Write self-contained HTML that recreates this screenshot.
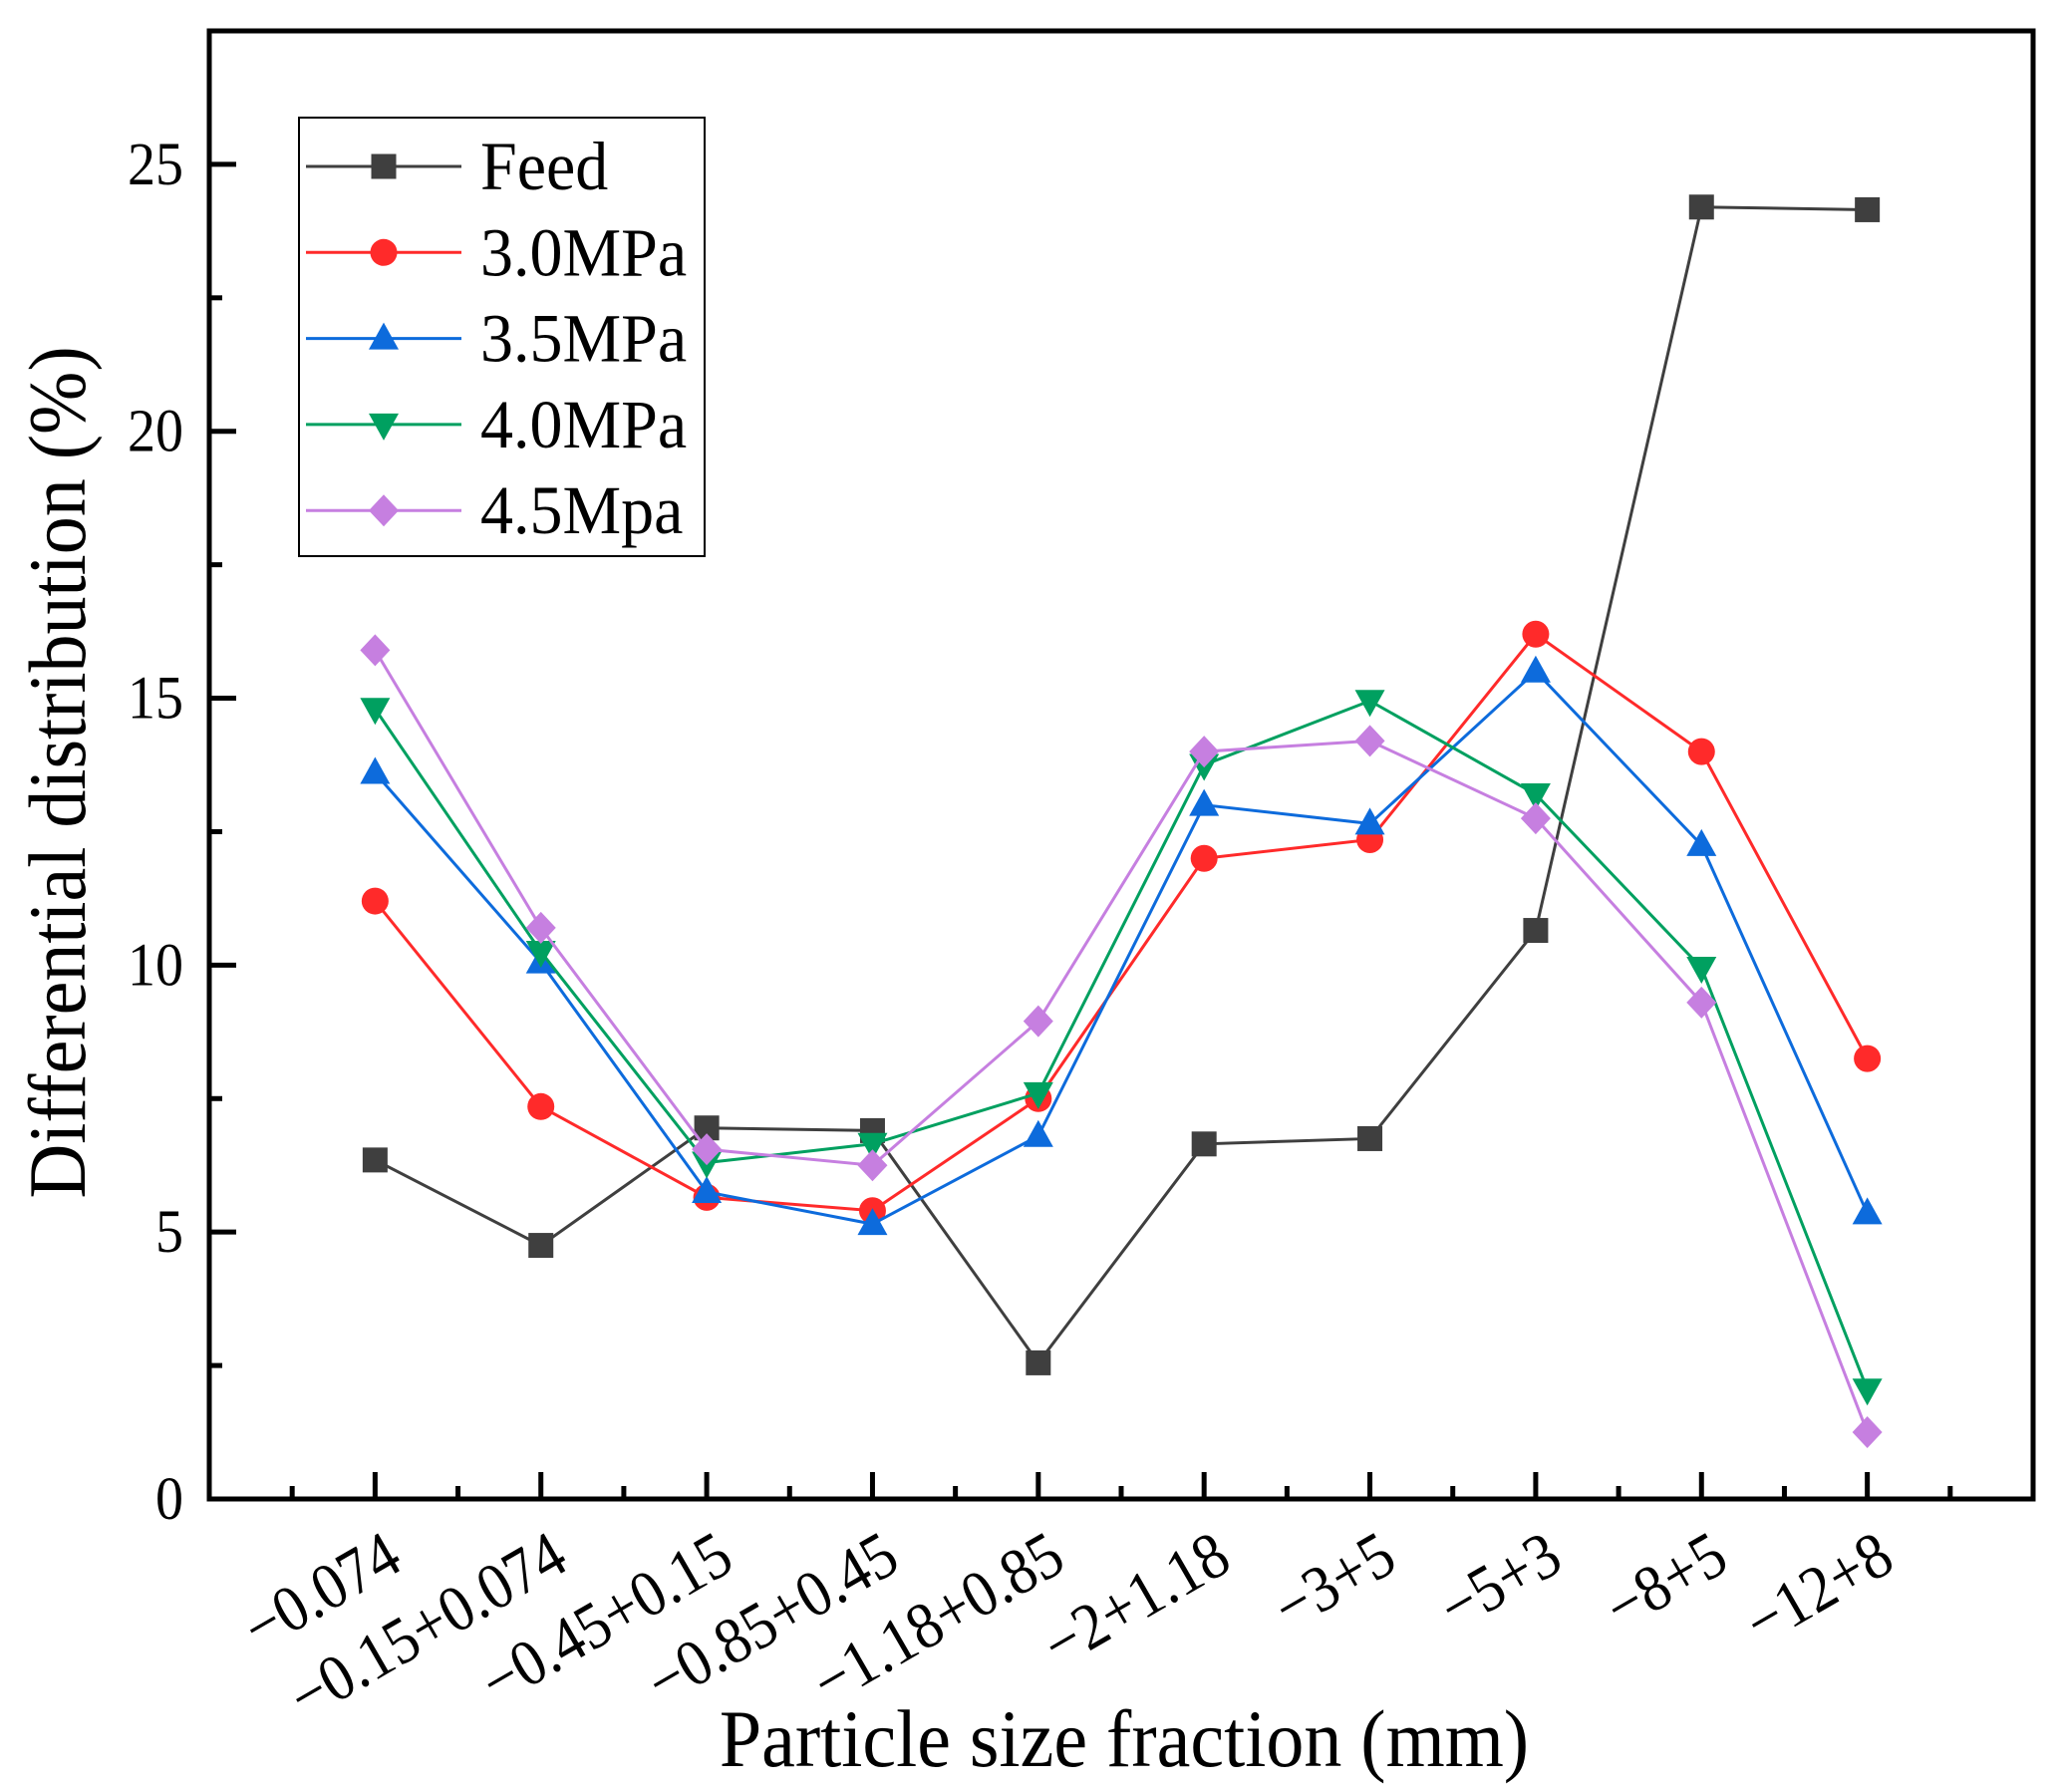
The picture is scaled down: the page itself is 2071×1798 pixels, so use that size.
<!DOCTYPE html>
<html><head><meta charset="utf-8"><style>
html,body{margin:0;padding:0;background:#fff}
svg{display:block;font-family:"Liberation Serif",serif}
</style></head><body>
<svg id="chart" width="2071" height="1798" viewBox="0 0 2071 1798" xmlns="http://www.w3.org/2000/svg">
<g id="plot"></g>
<g id="xaxis"></g>
<g id="yaxis"></g>
<g id="series"></g>
<g id="legend"></g>
<text x="1128" y="1772" font-size="76" text-anchor="middle" transform="translate(1128,1772) scale(1,1.08) translate(-1128,-1772)">Particle size fraction (mm)</text>
<text transform="translate(85,775) rotate(-90) scale(1,1.08)" font-size="76" text-anchor="middle">Differential distribution (%)</text>
</svg>
<script>
const categories = ["\u22120.074","\u22120.15+0.074","\u22120.45+0.15","\u22120.85+0.45","\u22121.18+0.85","\u22122+1.18","\u22123+5","\u22125+3","\u22128+5","\u221212+8"];
const yTicks = [0,5,10,15,20,25];
const seriesNames = ["Feed","3.0MPa","3.5MPa","4.0MPa","4.5Mpa"];
const feed = [6.35,4.75,6.95,6.9,2.55,6.65,6.75,10.65,24.2,24.15];
const mpa30 = [11.2,7.35,5.65,5.4,7.5,12.0,12.35,16.2,14.0,8.25];
const mpa35 = [13.6,10.05,5.75,5.15,6.8,13.0,12.65,15.5,12.25,5.35];
const mpa40 = [14.8,10.25,6.3,6.65,7.6,13.75,14.95,13.2,9.95,2.05];
const mpa45 = [15.9,10.7,6.55,6.25,8.95,14.0,14.2,12.75,9.3,1.25];

const NS="http://www.w3.org/2000/svg";
const L=210,R=2040,T=31,B=1504;
const xMin=-1,xMax=10,yMin=0,yMax=27.5;
const x=i=>L+(i-xMin)/(xMax-xMin)*(R-L);
const y=v=>B-(v-yMin)/(yMax-yMin)*(B-T);
function mk(tag,attrs,parent){const e=document.createElementNS(NS,tag);for(const k in attrs)e.setAttribute(k,attrs[k]);parent.appendChild(e);return e;}

const plot=document.getElementById('plot');
const frame=mk('rect',{x:L,y:T,width:R-L,height:B-T,fill:'none',stroke:'#000','stroke-width':5},plot);



const xa=document.getElementById('xaxis');
for(let k=-1;k<=10;k++){
  const maj=mk('line',{x1:x(k),x2:x(k),y1:B,y2:B-27,stroke:'#000','stroke-width':5},xa);
  
  
  if(k<10){const mn=mk('line',{x1:x(k+0.5),x2:x(k+0.5),y1:B,y2:B-13,stroke:'#000','stroke-width':5},xa);
  
  }
}
categories.forEach((c,i)=>{
  const t=mk('text',{x:0,y:0,'font-size':60,'text-anchor':'end',transform:`translate(${x(i)+30},${1573}) rotate(-30) scale(1,1.1)`},xa);
  t.textContent=c;
  
  
});

const ya=document.getElementById('yaxis');
yTicks.forEach(v=>{
  const tk=mk('line',{x1:L,x2:L+27,y1:y(v),y2:y(v),stroke:'#000','stroke-width':5},ya);
  
  
  const mn=mk('line',{x1:L,x2:L+13,y1:y(v+2.5),y2:y(v+2.5),stroke:'#000','stroke-width':5},ya);
  
  
  const t=mk('text',{x:0,y:0,'font-size':56,'text-anchor':'end',transform:`translate(184,${y(v)+20}) scale(1,1.1)`},ya);
  t.textContent=v;
  
  
});

const colors=['#3f3f3f','#ff2a2a','#0d6bdc','#00a060','#c67fe0'];
const shapes=['square','circle','up','down','diamond'];
const data=[feed,mpa30,mpa35,mpa40,mpa45];
function marker(shape,cx,cy,col,parent){
  let e;
  if(shape==='square')e=mk('rect',{x:cx-12.5,y:cy-12.5,width:25,height:25,fill:col},parent);
  else if(shape==='circle')e=mk('circle',{cx:cx,cy:cy,r:13.5,fill:col},parent);
  else if(shape==='up')e=mk('polygon',{points:`${cx},${cy-16} ${cx-15},${cy+11} ${cx+15},${cy+11}`,fill:col},parent);
  else if(shape==='down')e=mk('polygon',{points:`${cx},${cy+16} ${cx-15},${cy-11} ${cx+15},${cy-11}`,fill:col},parent);
  else e=mk('polygon',{points:`${cx},${cy-16} ${cx+15},${cy} ${cx},${cy+16} ${cx-15},${cy}`,fill:col},parent);
  return e;
}
const sg=document.getElementById('series');
data.forEach((arr,s)=>{
  const g=mk('g',{},sg);
  
  
  const pl=mk('polyline',{points:arr.map((v,i)=>x(i)+','+y(v)).join(' '),fill:'none',stroke:colors[s],'stroke-width':3},g);
  
  
  arr.forEach((v,i)=>{
    const m=marker(shapes[s],x(i),y(v),colors[s],g);
    
    
  });
});

const lg=document.getElementById('legend');
const box=mk('rect',{x:300,y:118,width:407,height:440,fill:'#fff',stroke:'#000','stroke-width':2},lg);


seriesNames.forEach((n,s)=>{
  const yy=167+s*86.3;
  const g=mk('g',{},lg);
  
  
  mk('line',{x1:307,x2:463,y1:yy,y2:yy,stroke:colors[s],'stroke-width':3},g);
  marker(shapes[s],385,yy,colors[s],g);
  const t=mk('text',{x:0,y:0,'font-size':66,transform:`translate(482,${yy+23}) scale(1,1.05)`},g);
  t.textContent=n;
  
  
});
</script>
</body></html>
